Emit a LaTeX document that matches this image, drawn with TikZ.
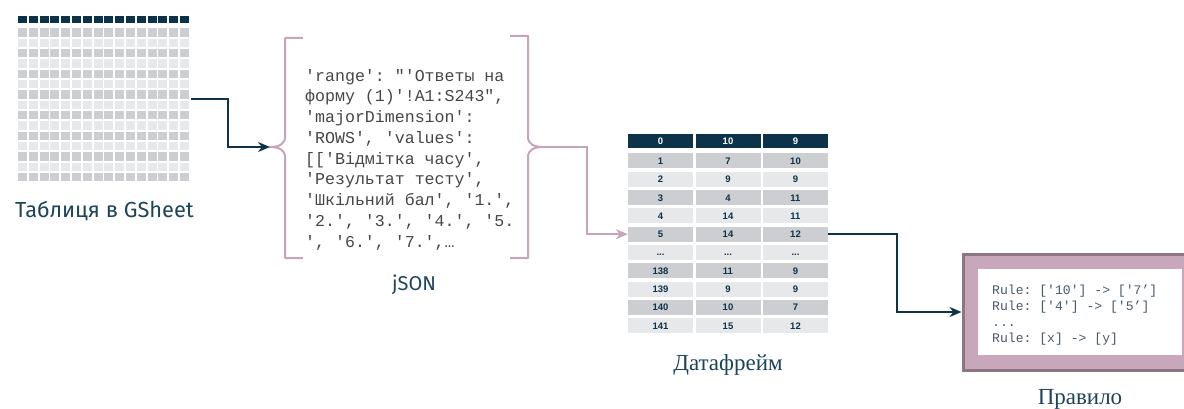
\documentclass[tikz,border=0pt]{standalone}
\usepackage{fontspec}
\setmainfont{Liberation Serif}
\setmonofont{Liberation Mono}
\newfontfamily\captionsans{Fira Sans}
\newfontfamily\cellsans{Liberation Sans}
\usepackage{xcolor}
\usepackage{tikz}
\usetikzlibrary{positioning,calc,fit,arrows.meta}
\definecolor{SheetNavy}{RGB}{12,51,73}
\definecolor{CaptionTeal}{RGB}{28,68,90}
\definecolor{CellDark}{RGB}{205,206,210}
\definecolor{CellLight}{RGB}{231,232,234}
\definecolor{BraceMauve}{RGB}{200,164,186}
\definecolor{RuleFill}{RGB}{201,167,186}
\definecolor{RuleEdge}{RGB}{141,117,131}
\definecolor{CodeGray}{RGB}{70,70,70}
\definecolor{RuleInk}{RGB}{72,90,106}
\newcommand{\skipdots}{...}
\tikzset{
    caption/.style={inner sep=0pt, text=CaptionTeal, font=\captionsans\fontsize{20}{24}\selectfont},
    seriflabel/.style={inner sep=0pt, text=CaptionTeal, font=\fontsize{23}{27}\selectfont},
    brace/.style={draw=BraceMauve, line width=2pt, line join=round}
}

\begin{document}
\begin{tikzpicture}[
        x=1pt, y=-1pt,
        % --- BẢNG DỮ LIỆU ---
        cellbox/.style={
            rectangle,
            inner sep=0pt,
            minimum width=65pt,
            minimum height=15pt,
            text height=6.8pt,
            text depth=0pt,
            text=SheetNavy,
            font=\cellsans\bfseries\fontsize{9.5}{10}\selectfont
        },
        rowodd/.style={cellbox, fill=CellDark},
        roweven/.style={cellbox, fill=CellLight},
        headcell/.style={cellbox, fill=SheetNavy, text=white, minimum height=14.5pt},
        % --- KHỐI MÃ ---
        jsontext/.style={inner sep=0pt, align=left, text=CodeGray, font=\ttfamily\fontsize{16.6}{20.75}\selectfont},
        ruletext/.style={inner sep=0pt, align=left, text=RuleInk, font=\ttfamily\fontsize{13.1}{16}\selectfont},
        rulebox/.style={rectangle, draw=RuleEdge, fill=RuleFill, line width=3pt, minimum width=234pt, minimum height=116pt},
        rulewin/.style={rectangle, fill=white, minimum width=204pt, minimum height=86pt},
        % --- MŨI TÊN ---
        navyarrow/.style={draw=SheetNavy, line width=2pt, -{Stealth[length=12pt, width=10pt]}},
        mauvearrow/.style={draw=BraceMauve, line width=2pt, -{Stealth[length=12pt, width=10pt]}}
    ]
    \useasboundingbox (0,0) rectangle (1184,409);

    % --- BẢNG GSHEET ---
    \foreach \i in {0,...,15} {
        \fill[SheetNavy] (18+\i*10.8, 16) rectangle ++(9,7);
        \foreach \j in {0,2,...,14}
            \fill[CellDark] (18+\i*10.8, {28.3+\j*10.33}) rectangle ++(9,8.3);
        \foreach \j in {1,3,...,13}
            \fill[CellLight] (18+\i*10.8, {28.3+\j*10.33}) rectangle ++(9,8.3);
    }
    \node[fit={(18,16) (191,183)}, inner sep=0pt] (sheet) {};
    \node[caption, font=\captionsans\fontsize{21.8}{26}\selectfont, below=18pt of sheet] (sheetlabel) {Таблиця в GSheet};

    % --- JSON ---
    \coordinate (jsonin) at (270,147);
    \coordinate (jsonout) at (543,147);
    \node[jsontext, anchor=north west] (json) at (305,69) {'range': "'Ответы на\\
        форму (1)'!A1:S243",\\
        'majorDimension':\\
        'ROWS', 'values':\\
        {[}['Відмітка часу',\\
        'Результат тесту',\\
        'Шкільний бал', '1.',\\
        '2.', '3.', '4.', '5.\\
        ', '6.', '7.',…};
    \draw[brace] (303,38) -- (285,38) -- (285,137)
        .. controls (285,144) and (279,147) .. (jsonin)
        .. controls (279,147) and (285,150) .. (285,157) -- (285,258) -- (303,258);
    \draw[brace] (510,36) -- (528,36) -- (528,137)
        .. controls (528,144) and (534,147) .. (jsonout)
        .. controls (534,147) and (528,150) .. (528,157) -- (528,258) -- (510,258);
    \node[caption] (jsonlabel) at (414,285) {jSON};

    % --- DATAFRAME ---
    \foreach \t [count=\k] in {0,10,9}
        \node[headcell] (h-\k) at ({593+\k*67.5}, 141) {\t};
    \foreach \r/\a/\b/\z/\s in {1/1/7/10/odd, 2/2/9/9/even, 3/3/4/11/odd, 4/4/14/11/even,
            5/5/14/12/odd, 6/\skipdots/\skipdots/\skipdots/even, 7/138/11/9/odd,
            8/139/9/9/even, 9/140/10/7/odd, 10/141/15/12/even} {
        \node[row\s] (c\r-1) at (660.5, {161+(\r-1)*18.3}) {\a};
        \node[row\s] (c\r-2) at (728, {161+(\r-1)*18.3}) {\b};
        \node[row\s] (c\r-3) at (795.5, {161+(\r-1)*18.3}) {\z};
    }
    \node[seriflabel, below=21pt of c10-2] (framelabel) {Датафрейм};

    % --- QUY TẮC ---
    \node[rulebox] (rulebox) at (1080,312) {};
    \node[rulewin] (rulewin) at (1080,312) {};
    \node[ruletext, anchor=west] (rules) at (992,315) {Rule: ['10'] -> ['7’]\\
        Rule: ['4'] -> ['5’]\\
        ...\\
        Rule: [x] -> [y]};
    \node[seriflabel, below=18pt of rulebox] (rulelabel) {Правило};

    % --- MŨI TÊN NỐI ---
    \draw[navyarrow] (sheet.east) -- ++(37,0) |- (jsonin);
    \draw[mauvearrow] (jsonout) -- ++(44,0) |- (c5-1.west);
    \draw[navyarrow] (c5-3.east) -- ++(69,0) |- (rulebox.west);
\end{tikzpicture}
\end{document}
